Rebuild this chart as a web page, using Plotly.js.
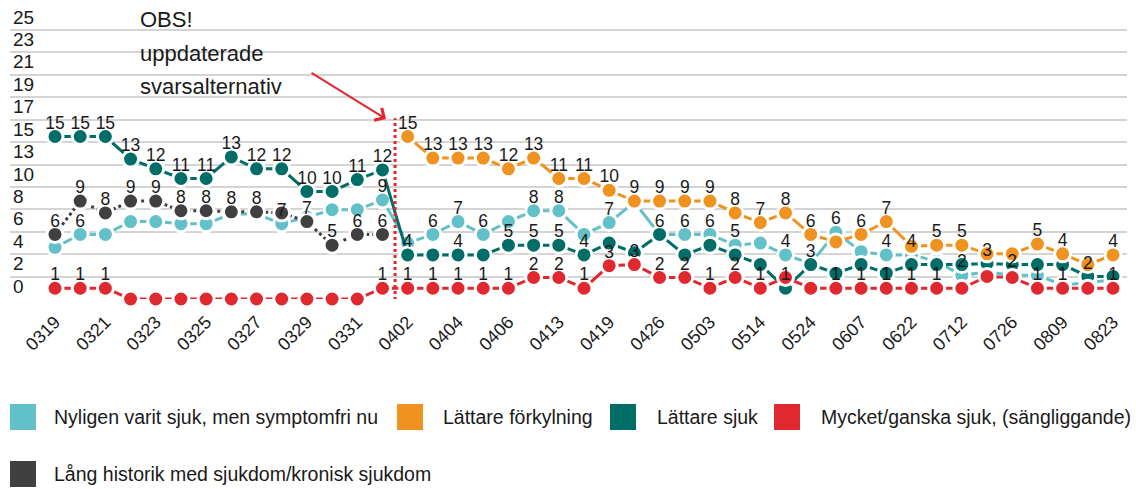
<!DOCTYPE html>
<html>
<head>
<meta charset="utf-8">
<script src="https://cdn.plot.ly/plotly-3.0.1.min.js"></script>
<style>
html,body{margin:0;padding:0;background:#fff;}
#chart{width:1136px;height:489px;}
</style>
</head>
<body>
<div id="chart"></div>
<script>
// ---------------- DATA ----------------
const dates = ['0319','0320','0321','0322','0323','0324','0325','0326','0327','0328','0329','0330','0331','0401',
  '0402','0403','0404','0405','0406','0409','0413','0416','0419','0422','0426','0429','0503','0507','0514','0519',
  '0524','0531','0607','0614','0622','0629','0712','0719','0726','0802','0809','0816','0823'];

const yTickText = ['0','2','4','6','8','10','13','15','17','19','21','23','25'];

const seriesNames = [
  'Nyligen varit sjuk, men symptomfri nu',
  'Lättare förkylning',
  'Lättare sjuk',
  'Mycket/ganska sjuk, (sängliggande)',
  'Lång historik med sjukdom/kronisk sjukdom'
];
const seriesColors = ['#62c0c9', '#f0921f', '#006d68', '#e0282f', '#404040'];

const nyligen = [4.8,6.0,6.0,7.2,7.2,7.0,7.0,7.9,7.9,7.0,7.6,8.3,8.3,9.2,
  5.2,6.0,7.2,6.0,7.2,8.2,8.2,6.0,7.1,9.0,6.0,6.0,6.0,5.0,5.2,4.1,
  3.3,6.2,4.4,4.1,4.1,3.5,2.2,2.5,2.2,2.2,1.3,1.5,1.8];
const forkylning = [null,null,null,null,null,null,null,null,null,null,null,null,null,null,
  15.1,13.1,13.1,13.1,12.1,13.1,11.2,11.2,10.1,9.1,9.1,9.1,9.1,8.0,7.1,8.0,
  6.0,5.3,6.0,7.2,4.9,5.0,5.0,4.2,4.2,5.1,4.2,3.2,4.1];
const lattareSjuk = [15.1,15.1,15.1,13.0,12.1,11.2,11.2,13.2,12.1,12.1,10.0,10.0,11.1,12.0,
  4.1,4.1,4.1,4.1,5.0,5.0,5.0,4.1,5.2,4.3,6.0,4.1,5.0,4.1,3.2,1.0,
  3.2,2.4,3.2,2.4,3.2,3.2,3.2,3.3,3.2,3.2,3.2,2.1,2.1];
const mycketSjuk = [1,1,1,0,0,0,0,0,0,0,0,0,0,1,
  1,1,1,1,1,2,2,1,3.1,3.2,2,2,1,2,1,2,
  1,1,1,1,1,1,1,2.1,2,1,1,1,1];
const langHistorik = [6.0,9.1,8.0,9.1,9.1,8.2,8.2,8.1,8.1,8.0,7.2,5.0,6.0,6.0,
  null,null,null,null,null,null,null,null,null,null,null,null,null,null,null,null,
  null,null,null,null,null,null,null,null,null,null,null,null,null];

// value labels that are not shown in the original (overlapping)
const hiddenNyligen = [0,2,3,4,5,6,7,8,10,11,12,14,18,21,23,24,28,30,32,35,37,39,40,41,42];
const hiddenForkylning = [31,34,37,38,41];
const hiddenLattareSjuk = [15,17,22,23,25,26,27,28,31,32,33,34,35,36,38,39,40,42];
const hiddenMycketSjuk = [3,4,5,6,7,8,9,10,11,12,29,30,36,37,38,41];
const hiddenLangHistorik = [9];

// ---------------- CHART ----------------
const FONT = 'Liberation Sans, Arial, Helvetica, sans-serif';
const seriesValues = [nyligen, forkylning, lattareSjuk, mycketSjuk, langHistorik];
const hiddenLists = [hiddenNyligen, hiddenForkylning, hiddenLattareSjuk, hiddenMycketSjuk, hiddenLangHistorik];
const dashes = ['solid','solid','solid','solid','dot'];
const drawOrder = [0, 2, 3, 1, 4];

const traces = [];
drawOrder.forEach(function(s){
  traces.push({
    type: 'scatter', mode: 'lines+markers', x: dates, y: seriesValues[s], name: seriesNames[s],
    line: {color: seriesColors[s], width: 3, dash: dashes[s]},
    marker: {size: 16, color: seriesColors[s], line: {color: '#ffffff', width: 3}},
    cliponaxis: false, showlegend: false, hoverinfo: 'skip', connectgaps: false
  });
});
drawOrder.forEach(function(s){
  const vals = seriesValues[s];
  const txt = vals.map(function(v, i){
    if (v === null || hiddenLists[s].indexOf(i) >= 0) return '';
    return String(Math.round(v));
  });
  traces.push({
    type: 'scatter', mode: 'markers+text', x: dates, y: vals, text: txt,
    textposition: 'top center',
    textfont: {family: FONT, size: 17.5, color: '#1a1a1a'},
    marker: {size: 4, color: 'rgba(0,0,0,0)'},
    cliponaxis: false, showlegend: false, hoverinfo: 'skip'
  });
});

// layout geometry (pixels)
const ML = 10, MR = 9, MT = 0, MB = 190, W = 1136, H = 489;
const PW = W - ML - MR, PH = H - MT - MB;
const pxX = function(px){ return (px - ML) / PW; };
const pxY = function(py){ return (H - MB - py) / PH; };

const unitPx = (H - MB - 30) / 25;          // 25 at y=30, 0 at y=299
const yMax = 25 + (30 - MT) / unitPx;
const xMin = -(55 - ML) / 25.19;
const xMax = (dates.length - 1) + 14 / 25.19;

const ANN_FONT = {family: FONT, size: 22, color: '#1a1a1a'};
const shapes = [{
  type: 'line', xref: 'x', yref: 'y', x0: 13.5, x1: 13.5, y0: -1.2, y1: 16.8,
  line: {color: '#e0282f', width: 3, dash: 'dot'}
}];
const annotations = [
  {text: 'OBS!', xref: 'paper', yref: 'paper', x: pxX(138), y: pxY(20), xanchor: 'left', yanchor: 'middle', showarrow: false, font: ANN_FONT},
  {text: 'uppdaterade', xref: 'paper', yref: 'paper', x: pxX(138), y: pxY(53), xanchor: 'left', yanchor: 'middle', showarrow: false, font: ANN_FONT},
  {text: 'svarsalternativ', xref: 'paper', yref: 'paper', x: pxX(138), y: pxY(86), xanchor: 'left', yanchor: 'middle', showarrow: false, font: ANN_FONT},
  {text: '', xref: 'paper', yref: 'paper', x: pxX(386), y: pxY(119), showarrow: true,
   ax: -76, ay: -47, arrowhead: 4, arrowsize: 1.4, arrowwidth: 2, arrowcolor: '#e0282f'}
];

// custom legend (square swatches)
const legendPos = [
  {sx: 10, sy: 404, tx: 52, ty: 417},
  {sx: 397, sy: 404, tx: 441, ty: 417},
  {sx: 610, sy: 404, tx: 655, ty: 417},
  {sx: 774, sy: 404, tx: 819, ty: 417},
  {sx: 10, sy: 461, tx: 52, ty: 474}
];
legendPos.forEach(function(p, s){
  shapes.push({type: 'rect', xref: 'paper', yref: 'paper',
    x0: pxX(p.sx), x1: pxX(p.sx + 26), y0: pxY(p.sy + 26), y1: pxY(p.sy),
    fillcolor: seriesColors[s], line: {width: 0}});
  annotations.push({text: seriesNames[s], xref: 'paper', yref: 'paper', x: pxX(p.tx), y: pxY(p.ty),
    xanchor: 'left', yanchor: 'middle', showarrow: false, font: {family: FONT, size: 19.5, color: '#1a1a1a'}});
});

const layout = {
  width: W, height: H,
  margin: {l: ML, r: MR, t: MT, b: MB, pad: 0},
  paper_bgcolor: '#ffffff', plot_bgcolor: '#ffffff',
  showlegend: false,
  font: {family: FONT, color: '#1a1a1a'},
  xaxis: {
    type: 'category', range: [xMin, xMax],
    tickmode: 'array', tickvals: dates.filter(function(d, i){ return i % 2 === 0; }),
    tickangle: -45, tickfont: {family: FONT, size: 18, color: '#1a1a1a'},
    ticklabelstandoff: 8,
    showgrid: false, zeroline: false, showline: false, ticks: '', fixedrange: true
  },
  yaxis: {
    range: [0, yMax],
    tickmode: 'array',
    tickvals: yTickText.map(function(t, i){ return i * 25 / 12; }),
    ticktext: yTickText,
    ticklabelposition: 'inside', ticklabelshift: -13,
    tickfont: {family: FONT, size: 19, color: '#1a1a1a'},
    showgrid: true, gridcolor: '#d4d4d4', gridwidth: 2,
    zeroline: false, showline: false, ticks: '', fixedrange: true
  },
  shapes: shapes,
  annotations: annotations
};

Plotly.newPlot('chart', traces, layout, {displayModeBar: false, staticPlot: true});
</script>
</body>
</html>
